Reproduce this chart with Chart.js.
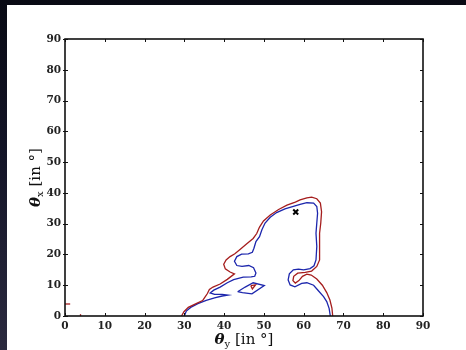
<!DOCTYPE html>
<html>
<head>
<meta charset="utf-8">
<script src="https://cdn.jsdelivr.net/npm/chart.js@4/dist/chart.umd.min.js"></script>
<style>
  html, body { margin: 0; padding: 0; }
  body {
    width: 466px; height: 350px; overflow: hidden; position: relative;
    background: linear-gradient(to bottom, #090a14 0%, #141528 45%, #2b2a3f 100%);
  }
  #sheet { position: absolute; left: 7px; top: 5px; width: 459px; height: 345px; background: #ffffff; }
  #wrap { position: absolute; left: 0; top: 0; width: 466px; height: 350px; }
</style>
</head>
<body>
<div id="sheet"></div>
<div id="wrap"><canvas id="c" width="466" height="350"></canvas></div>
<script>
// Tick values shared by both axes (degrees)
const tickValues = [0, 10, 20, 30, 40, 50, 60, 70, 80, 90];

// Outer (red) contour, [theta_y, theta_x] in degrees
const redContour = [
  [29.3,0],[29.9,1.4],[31.0,2.8],[33.1,4.1],[34.6,5.0],[35.1,6.0],[35.8,7.3],[36.3,8.6],
  [37.2,9.4],[39.0,10.4],[40.8,11.9],[42.6,13.7],[41.5,14.3],[40.3,15.3],[39.9,16.8],
  [40.5,18.2],[41.5,19.3],[42.7,20.2],[44.0,21.6],[45.7,23.5],[47.3,25.2],[48.2,26.8],
  [48.9,28.9],[49.9,30.9],[51.6,32.8],[53.7,34.6],[55.8,36.0],[57.9,37.0],[59.1,37.7],
  [60.8,38.4],[62.0,38.6],[63.3,38.1],[64.2,36.7],[64.5,33.9],[64.3,30.2],[64.0,26.9],
  [64.1,22.6],[63.9,18.2],[63.3,16.1],[62.0,14.6],[60.4,14.2],[58.5,13.9],[57.5,12.9],
  [57.3,11.5],[57.9,10.7],[58.8,11.5],[59.7,12.9],[60.8,13.6],[61.9,13.3],[63.3,12.0],
  [64.7,10.0],[65.8,7.6],[66.6,5.2],[67.1,2.6],[67.3,0]
];
const redIsland = [[46.7,9.9],[47.9,10.1],[47.1,8.8],[46.7,9.9]];
const redEdgeA = [[0,3.9],[1.3,3.9]];
const redEdgeB = [[3.9,0],[3.9,0.6]];

// Inner (blue) contour
const blueContour = [
  [30.0,0],[30.5,1.6],[31.6,2.8],[33.4,4.0],[35.5,5.1],[37.6,5.9],[39.5,6.5],[40.9,6.8],
  [39.5,7.0],[37.6,7.0],[36.5,7.5],[37.4,8.4],[39.0,9.4],[40.8,10.8],[42.4,11.8],[44.8,12.6],
  [46.8,12.7],[47.7,12.9],[48.0,14.0],[47.4,15.7],[46.2,16.4],[44.5,16.1],[43.2,16.4],
  [42.6,17.8],[43.2,19.3],[44.4,20.1],[46.1,20.2],[47.1,20.7],[47.5,22.0],[48.0,24.2],
  [48.9,25.8],[49.5,28.0],[50.3,30.2],[51.6,32.1],[53.2,33.6],[55.3,34.8],[57.4,35.6],
  [59.1,36.3],[60.8,36.8],[62.5,36.7],[63.3,35.6],[63.5,33.4],[63.3,30.2],[63.1,26.9],
  [63.3,22.6],[63.1,18.2],[62.6,16.3],[61.6,15.4],[60.0,15.0],[58.7,15.2],[57.4,15.0],
  [56.4,13.7],[56.1,11.7],[56.6,10.1],[57.8,9.5],[59.5,10.6],[60.8,10.8],[62.5,10.0],
  [63.7,8.2],[65.0,6.3],[65.8,4.7],[66.4,2.5],[66.7,0]
];
const blueIsland = [[43.4,7.9],[45.3,9.4],[47.3,10.8],[50.1,9.9],[47.0,7.2],[44.6,7.6],[43.4,7.9]];

// Location of the optimum
const optimum = [[58.0, 33.8]];

const RED = '#a51d1d';
const BLUE = '#1c26ad';

const toXY = arr => arr.map(p => ({ x: p[0], y: p[1] }));
const lineSet = (arr, color) => ({
  data: toXY(arr), showLine: true, borderColor: color, borderWidth: 1.3,
  pointRadius: 0, fill: false, tension: 0
});

const tickFont = { family: 'DejaVu Serif', weight: 'bold', size: 10.5 };

// Frame, inward ticks and axis titles
const framePlugin = {
  id: 'frame',
  afterDatasetsDraw(chart) {
    const { ctx, chartArea: a, scales } = chart;
    ctx.save();
    ctx.strokeStyle = '#111';
    ctx.lineWidth = 1;
    tickValues.forEach(v => {
      const px = Math.round(scales.x.getPixelForValue(v)) + 0.5;
      const py = Math.round(scales.y.getPixelForValue(v)) + 0.5;
      ctx.beginPath();
      ctx.moveTo(px, a.bottom); ctx.lineTo(px, a.bottom - 3);
      ctx.moveTo(px, a.top); ctx.lineTo(px, a.top + 3);
      ctx.moveTo(a.left - 2, py); ctx.lineTo(a.left + 3, py);
      ctx.moveTo(a.right, py); ctx.lineTo(a.right - 3, py);
      ctx.stroke();
    });
    ctx.lineWidth = 1.6;
    ctx.strokeRect(a.left, a.top, a.right - a.left, a.bottom - a.top);
    ctx.restore();
  },
  afterDraw(chart) {
    const { ctx, chartArea: a } = chart;
    const drawTitle = (sub) => {
      const parts = [
        { t: '\u03B8', f: 'italic bold 15px "DejaVu Serif"', dy: 0 },
        { t: sub, f: '10px "DejaVu Serif"', dy: 3 },
        { t: ' [in \u00B0]', f: '15px "DejaVu Serif"', dy: 0 }
      ];
      let w = 0;
      parts.forEach(p => { ctx.font = p.f; p.w = ctx.measureText(p.t).width; w += p.w; });
      let x = -w / 2;
      parts.forEach(p => { ctx.font = p.f; ctx.fillText(p.t, x, p.dy); x += p.w; });
    };
    ctx.save();
    ctx.fillStyle = '#111';
    ctx.textBaseline = 'alphabetic';
    ctx.textAlign = 'left';
    ctx.save();
    ctx.translate((a.left + a.right) / 2, 344);
    drawTitle('y');
    ctx.restore();
    ctx.save();
    ctx.translate(40, (a.top + a.bottom) / 2);
    ctx.rotate(-Math.PI / 2);
    drawTitle('x');
    ctx.restore();
    ctx.restore();
  }
};

new Chart(document.getElementById('c'), {
  type: 'scatter',
  data: {
    datasets: [
      lineSet(redContour, RED),
      lineSet(redIsland, RED),
      lineSet(redEdgeA, RED),
      lineSet(redEdgeB, RED),
      lineSet(blueContour, BLUE),
      lineSet(blueIsland, BLUE),
      {
        data: toXY(optimum), pointStyle: 'crossRot', pointRadius: 3.5,
        borderColor: '#000', borderWidth: 2, showLine: false
      }
    ]
  },
  options: {
    responsive: false,
    animation: false,
    events: [],
    layout: { padding: { left: 0, right: 43, top: 39, bottom: 0 } },
    plugins: { legend: { display: false }, tooltip: { enabled: false } },
    scales: {
      x: {
        type: 'linear', min: 0, max: 90,
        afterBuildTicks: s => { s.ticks = tickValues.map(v => ({ value: v })); },
        afterFit: s => { s.height = 34; },
        grid: { display: false, drawTicks: false },
        border: { display: false },
        ticks: { font: tickFont, color: '#222', padding: 4, maxRotation: 0 }
      },
      y: {
        type: 'linear', min: 0, max: 90,
        afterBuildTicks: s => { s.ticks = tickValues.map(v => ({ value: v })); },
        afterFit: s => { s.width = 65; },
        grid: { display: false, drawTicks: false },
        border: { display: false },
        ticks: { font: tickFont, color: '#222', padding: 4 }
      }
    }
  },
  plugins: [framePlugin]
});
</script>
</body>
</html>
